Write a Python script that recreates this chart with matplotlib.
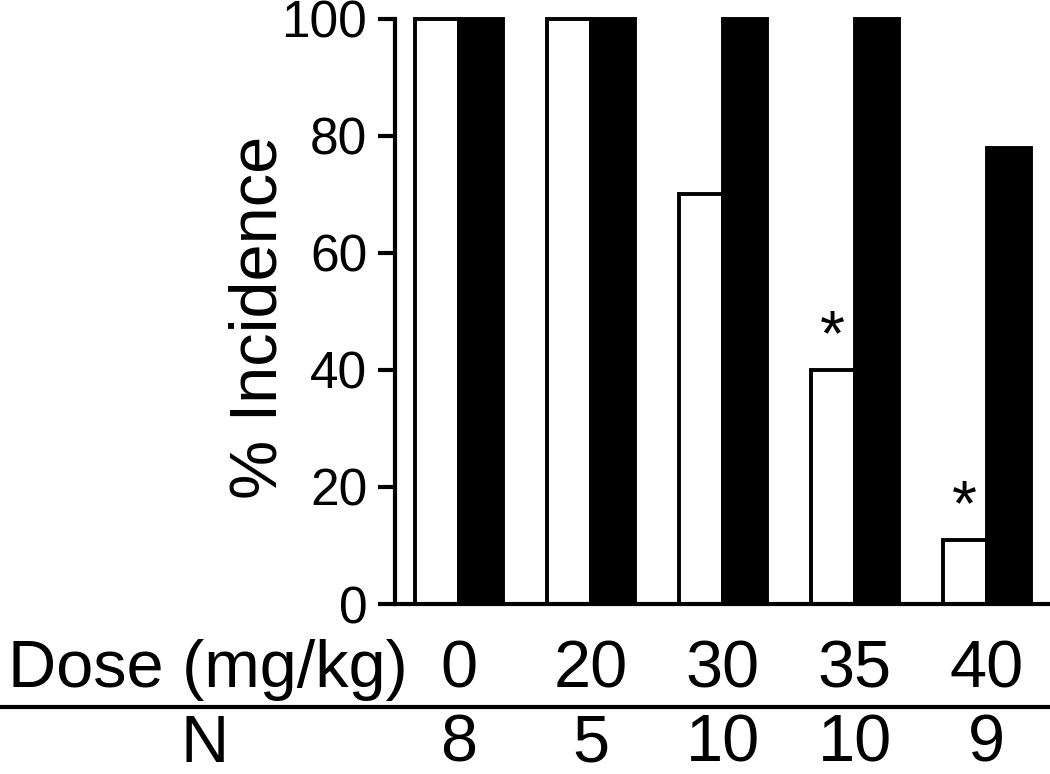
import matplotlib.pyplot as plt
import numpy as np
from matplotlib.lines import Line2D
from matplotlib.transforms import blended_transform_factory

plt.rcParams['font.family'] = ['Liberation Sans', 'DejaVu Sans']

doses = ["0", "20", "30", "35", "40"]
n_animals = ["8", "5", "10", "10", "9"]
white_vals = [100, 100, 70, 40, 11]
black_vals = [100, 100, 100, 100, 78]
significant = [False, False, False, True, True]

W = 1050
H = 774
fig = plt.figure(figsize=(W / 100, H / 100), dpi=100)
ax = fig.add_axes([395 / W, 1 - 604 / H, 1 - 395 / W, (604 - 19) / H])

x = np.arange(len(doses))
w = 0.333
ax.bar(x - w / 2, white_vals, w, color="white", edgecolor="black", linewidth=2.8, clip_on=False, zorder=2)
ax.bar(x + w / 2, black_vals, w, color="black", edgecolor="black", linewidth=2.8, clip_on=False, zorder=2)

# significance marks over the white bars
for i, sig in enumerate(significant):
    if sig:
        ax.text(x[i] - w / 2, white_vals[i] + 2.5, "*", ha="center", va="baseline", fontsize=46)

ax.set_xlim(-0.485, 4.48)
ax.set_ylim(0, 100)
ax.set_yticks([0, 20, 40, 60, 80, 100])
ax.set_xticks([])
ax.spines["top"].set_visible(False)
ax.spines["right"].set_visible(False)
ax.spines["left"].set_linewidth(3)
ax.spines["bottom"].set_linewidth(3)
ax.tick_params(axis="y", direction="out", length=12, width=3, pad=8, labelsize=37)
ax.set_ylabel("% Incidence", fontsize=48)
ax.yaxis.set_label_coords(-0.16, 0.49)

# rows under the axis
trans = blended_transform_factory(ax.transData, fig.transFigure)
y_dose = 1 - 687 / H
y_n = 1 - 762 / H
fig.text(408 / W, y_dose, "Dose (mg/kg)", ha="right", va="baseline", fontsize=48)
fig.text(205 / W, y_n, "N", ha="center", va="baseline", fontsize=48)
for i in range(len(doses)):
    ax.text(x[i], y_dose, doses[i], transform=trans, ha="center", va="baseline", fontsize=48)
    ax.text(x[i], y_n, n_animals[i], transform=trans, ha="center", va="baseline", fontsize=48)

fig.add_artist(Line2D([0, 1], [1 - 707 / H, 1 - 707 / H], transform=fig.transFigure, color="black", linewidth=3))

fig.savefig("out.png", dpi=100)
